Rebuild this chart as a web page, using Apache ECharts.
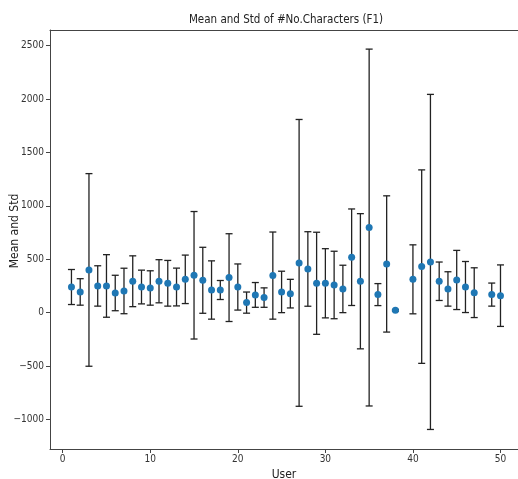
<!DOCTYPE html>
<html>
<head>
<meta charset="utf-8">
<script src="https://cdn.jsdelivr.net/npm/echarts@6/dist/echarts.min.js"></script>
<style>
  html, body { margin: 0; padding: 0; background: #fff; }
  #chart { width: 518px; height: 479px; }
</style>
</head>
<body>
<div id="chart"></div>
<script>
// users (39 and 48 have no data)
var users = [1, 2, 3, 4, 5, 6, 7, 8, 9, 10, 11, 12, 13, 14, 15, 16, 17, 18, 19, 20,
  21, 22, 23, 24, 25, 26, 27, 28, 29, 30, 31, 32, 33, 34, 35, 36, 37, 38, 40,
  41, 42, 43, 44, 45, 46, 47, 49, 50];
var means = [240, 194, 400, 250, 250, 184, 203, 294, 240, 231, 294, 275, 240, 312, 350, 303, 212, 212, 328, 240,
  94, 166, 141, 347, 194, 178, 466, 409, 275, 275, 259, 222, 519, 294, 797, 169, 456, 22, 312,
  431, 475, 294, 222, 306, 240, 187, 169, 159];
var stds = [164, 124, 902, 189, 293, 166, 213, 238, 158, 161, 202, 214, 177, 227, 597, 309, 273, 89, 411, 216,
  99, 116, 91, 408, 194, 134, 1343, 349, 478, 324, 316, 222, 452, 633, 1671, 103, 638, 8, 323,
  906, 1569, 180, 161, 277, 239, 233, 108, 288];
var yTicks = [-1000, -500, 0, 500, 1000, 1500, 2000, 2500];
var xTicks = [0, 10, 20, 30, 40, 50];

var font = "'Liberation Sans Narrow', 'DejaVu Sans Condensed', sans-serif";
var chart = echarts.init(document.getElementById('chart'));

var barData = [];
var dotData = [];
for (var i = 0; i < users.length; i++) {
  barData.push([users[i], means[i], stds[i]]);
  dotData.push([users[i], means[i]]);
}

var option = {
  animation: false,
  grid: { left: 50, right: 0, top: 30, bottom: 30, containLabel: false, outerBoundsMode: 'none' },
  graphic: [{
    type: 'text',
    x: 286, y: 20,
    style: {
      text: 'Mean and Std of #No.Characters (F1)',
      fontFamily: font, fontSize: 11.5, fill: '#222',
      textAlign: 'center', textVerticalAlign: 'middle'
    }
  }, {
    type: 'text',
    x: 15, y: 231,
    rotation: Math.PI / 2,
    style: {
      text: 'Mean and Std',
      fontFamily: font, fontSize: 12, fill: '#222',
      textAlign: 'center', textVerticalAlign: 'middle'
    }
  }],
  xAxis: [{
    type: 'value',
    min: -1.45, max: 52.0,
    name: 'User', nameLocation: 'middle', nameGap: 19,
    nameTextStyle: { fontFamily: font, fontSize: 12, color: '#222' },
    splitLine: { show: false },
    axisLine: { onZero: false, lineStyle: { color: '#444', width: 1 } },
    axisTick: { length: 4, lineStyle: { color: '#444' }, customValues: xTicks },
    axisLabel: { fontFamily: font, fontSize: 10, color: '#333', margin: 5, customValues: xTicks }
  }, {
    type: 'value',
    position: 'top',
    min: -1.45, max: 52.0,
    splitLine: { show: false },
    axisLine: { show: true, onZero: false, lineStyle: { color: '#444', width: 1 } },
    axisTick: { show: false },
    axisLabel: { show: false }
  }],
  yAxis: {
    type: 'value',
    min: -1277, max: 2647,
    splitLine: { show: false },
    axisLine: { show: true, onZero: false, lineStyle: { color: '#444', width: 1 } },
    axisTick: { show: true, length: 4, lineStyle: { color: '#444' }, customValues: yTicks },
    axisLabel: {
      fontFamily: font, fontSize: 10, color: '#333', margin: 6, customValues: yTicks,
      formatter: function (v) { return String(v).replace('-', '\u2212'); }
    }
  },
  series: [{
    type: 'custom',
    data: barData,
    z: 2,
    renderItem: function (params, api) {
      var x = api.value(0), m = api.value(1), s = api.value(2);
      var top = api.coord([x, m + s]);
      var bot = api.coord([x, m - s]);
      var hw = 3.5;
      var st = { stroke: '#222', lineWidth: 1.3 };
      return {
        type: 'group',
        children: [
          { type: 'line', shape: { x1: top[0], y1: top[1], x2: bot[0], y2: bot[1] }, style: st },
          { type: 'line', shape: { x1: top[0] - hw, y1: top[1], x2: top[0] + hw, y2: top[1] }, style: st },
          { type: 'line', shape: { x1: bot[0] - hw, y1: bot[1], x2: bot[0] + hw, y2: bot[1] }, style: st }
        ]
      };
    }
  }, {
    type: 'scatter',
    data: dotData,
    z: 3,
    symbol: 'circle',
    symbolSize: 7,
    itemStyle: { color: '#1f77b4', opacity: 1 }
  }]
};
chart.setOption(option);
</script>
</body>
</html>
